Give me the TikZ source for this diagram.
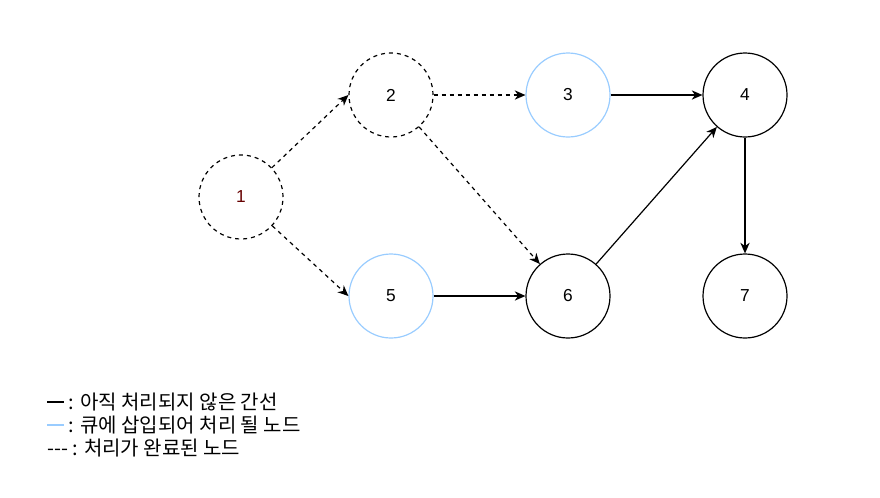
\documentclass[tikz,border=0pt]{standalone}
\usepackage{fontspec}
\setmainfont{Liberation Sans}
\newfontfamily\korean{Noto Sans CJK KR}
\usetikzlibrary{arrows.meta}
\definecolor{queueblue}{HTML}{99CCFF}
\definecolor{startred}{HTML}{660000}
\newcommand{\legdash}{\rule[0.3em]{0.85em}{1.6pt}}

\tikzset{
  vertex/.style={circle, draw, line width=0.9pt, minimum size=63pt, inner sep=0pt, font=\fontsize{13}{15}\selectfont},
  done/.style={dash pattern=on 3pt off 3pt},
  queued/.style={draw=queueblue},
  edge/.style={-{Stealth[length=8pt,width=7pt,inset=2.5pt]}, line width=0.9pt},
  legend/.style={anchor=west, inner sep=0pt, font=\korean\fontsize{15}{17}\selectfont}
}

\begin{document}
\begin{tikzpicture}[x=0.75pt, y=-0.75pt]
      \useasboundingbox (0,0) rectangle (880,497);

      % nodes
      \node[vertex, done, text=startred] (n1) at (241,197) {1};
      \node[vertex, done] (n2) at (391,95) {2};
      \node[vertex, queued] (n3) at (568,95) {3};
      \node[vertex] (n4) at (745,95) {4};
      \node[vertex, queued] (n5) at (391,296) {5};
      \node[vertex] (n6) at (568,296) {6};
      \node[vertex] (n7) at (745,296) {7};

      % edges
      \draw[edge, done] (n1) -- (n2.west);
      \draw[edge, done] (n1) -- (n5.west);
      \draw[edge, done] (n2) -- (n3);
      \draw[edge, done] (n2) -- (n6);
      \draw[edge] (n3) -- (n4);
      \draw[edge] (n5) -- (n6);
      \draw[edge] (n6) -- (n4);
      \draw[edge] (n4) -- (n7);

      % legend
      \node[legend] (leg1) at (47,402) {\legdash\ : 아직 처리되지 않은 간선};
      \node[legend] (leg2) at (47,425) {\textcolor{queueblue}{\legdash}\ : 큐에 삽입되어 처리 될 노드};
      \node[legend] (leg3) at (47,448) {--- : 처리가 완료된 노드};
\end{tikzpicture}
\end{document}
